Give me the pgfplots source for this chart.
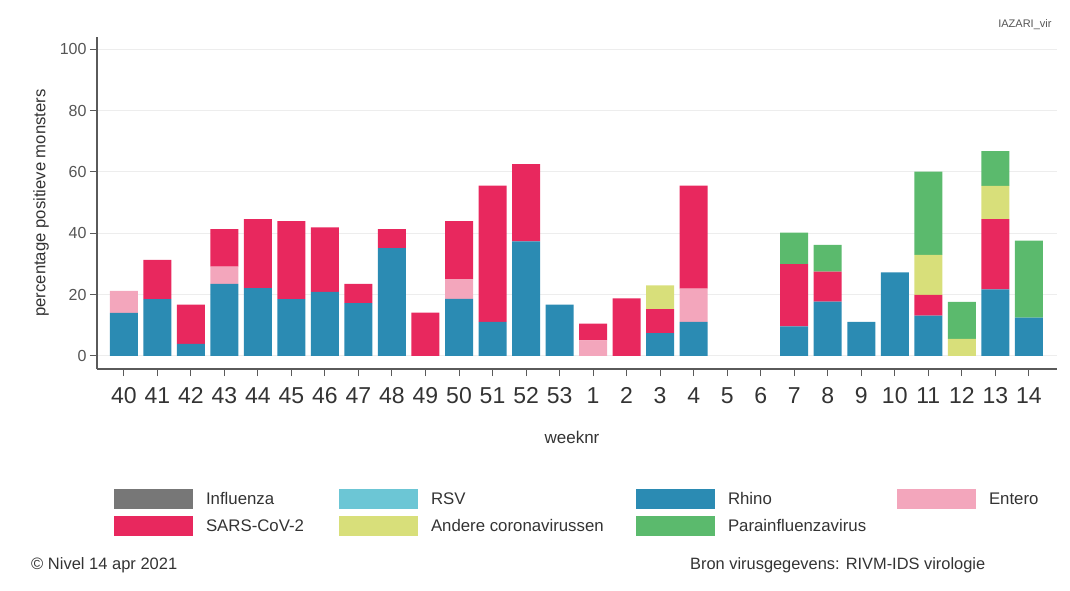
\documentclass[border=0pt]{standalone}
\usepackage{fontspec}
\setmainfont{Liberation Sans}
\usepackage{pgfplots}
\usepackage{pgfplotstable}
\pgfplotsset{compat=1.18}
\definecolor{cRhino}{RGB}{43,139,179}
\definecolor{cSars}{RGB}{232,40,94}
\definecolor{cEntero}{RGB}{243,166,188}
\definecolor{cAndere}{RGB}{216,223,122}
\definecolor{cPara}{RGB}{91,186,109}
\definecolor{cInfl}{RGB}{119,119,119}
\definecolor{cRSV}{RGB}{108,198,213}
\definecolor{axgray}{RGB}{90,90,90}
\definecolor{txtgray}{RGB}{51,51,51}
\definecolor{ticktxt}{RGB}{85,85,85}

\pgfplotstableread{
idx infl rsv rhino entero sars andere para
0  0 0 14.0 7.2  0    0    0
1  0 0 18.5 0    12.8 0    0
2  0 0 3.9  0    12.8 0    0
3  0 0 23.5 5.6  12.2 0    0
4  0 0 22.1 0    22.5 0    0
5  0 0 18.5 0    25.4 0    0
6  0 0 20.9 0    21.0 0    0
7  0 0 17.2 0    6.3  0    0
8  0 0 35.1 0    6.2  0    0
9  0 0 0    0    14.1 0    0
10 0 0 18.6 6.4  18.9 0    0
11 0 0 11.1 0    44.4 0    0
12 0 0 37.3 0    25.2 0    0
13 0 0 16.7 0    0    0    0
14 0 0 0    5.0  5.5  0    0
15 0 0 0    0    18.7 0    0
16 0 0 7.4  0    7.8  7.8  0
17 0 0 11.1 10.8 33.6 0    0
18 0 0 0    0    0    0    0
19 0 0 0    0    0    0    0
20 0 0 9.6  0    20.3 0    10.3
21 0 0 17.7 0    9.8  0    8.7
22 0 0 11.1 0    0    0    0
23 0 0 27.2 0    0    0    0
24 0 0 13.1 0    6.8  13.0 27.2
25 0 0 0    0    0    5.5  12.1
26 0 0 21.7 0    22.9 10.8 11.4
27 0 0 12.5 0    0    0    25.1
}\datatable

\begin{document}
\begin{tikzpicture}
\useasboundingbox (0pt,0pt) rectangle (1070pt,-591pt);
\begin{axis}[
  at={(97pt,-37pt)}, anchor=north west,
  width=960pt, height=332pt, scale only axis,
  xmin=-0.8, xmax=27.84, ymin=-4.3, ymax=104,
  ybar stacked, bar width=28pt,
  axis x line*=bottom, axis y line*=left,
  axis line style={-, draw=axgray, line width=1.2pt},
  xtick={0,...,27},
  xticklabels={40,41,42,43,44,45,46,47,48,49,50,51,52,53,1,2,3,4,5,6,7,8,9,10,11,12,13,14},
  ytick={0,20,40,60,80,100},
  ymajorgrids,
  grid style={draw=black!7, line width=1.2pt},
  tick align=outside,
  major tick length=7pt,
  tick style={draw=axgray, line width=1pt},
  /pgf/number format/assume math mode=true,
  xticklabel style={font=\fontsize{23pt}{27pt}\selectfont, text=txtgray, yshift=-8pt},
  yticklabel style={font=\fontsize{16pt}{19pt}\selectfont, text=ticktxt},
  xlabel={weeknr},
  ylabel={percentage positieve monsters},
  xlabel style={at={(axis description cs:0.4948,-0.2048)}, anchor=center, font=\fontsize{17pt}{20pt}\selectfont, text=txtgray},
  ylabel style={at={(axis description cs:-0.0583,0.5)}, anchor=center, rotate=0, font=\fontsize{16.7pt}{20pt}\selectfont, text=txtgray},
  legend columns=4,
  legend cell align=left,
  legend style={at={(axis description cs:0.01771,-0.36145)}, anchor=north west,
    draw=none, fill=none, inner sep=0pt, outer sep=0pt, row sep=7pt,
    column sep=0pt,
    font=\fontsize{16.8pt}{19pt}\selectfont, text=txtgray,
    nodes={inner sep=0pt, outer sep=0pt}},
  legend image code/.code={\fill[#1,draw=none] (0pt,-10pt) rectangle (79pt,10pt);},
  clip=false,
]
\addplot[fill=cInfl, draw=none] table[x=idx, y=infl] {\datatable};
\addlegendentry{\makebox[146pt][l]{\hspace{13pt}Influenza}}
\addplot[fill=cRSV, draw=none] table[x=idx, y=rsv] {\datatable};
\addlegendentry{\makebox[218pt][l]{\hspace{13pt}RSV}}
\addplot[fill=cRhino, draw=none] table[x=idx, y=rhino] {\datatable};
\addlegendentry{\makebox[182pt][l]{\hspace{13pt}Rhino}}
\addplot[fill=cEntero, draw=none] table[x=idx, y=entero] {\datatable};
\addlegendentry{\makebox[100pt][l]{\hspace{13pt}Entero}}
\addplot[fill=cSars, draw=none] table[x=idx, y=sars] {\datatable};
\addlegendentry{\makebox[146pt][l]{\hspace{13pt}SARS-CoV-2}}
\addplot[fill=cAndere, draw=none] table[x=idx, y=andere] {\datatable};
\addlegendentry{\makebox[218pt][l]{\hspace{13pt}Andere coronavirussen}}
\addplot[fill=cPara, draw=none] table[x=idx, y=para] {\datatable};
\addlegendentry{\makebox[182pt][l]{\hspace{13pt}Parainfluenzavirus}}
\end{axis}
\node[anchor=east, font=\fontsize{11pt}{13pt}\selectfont, text=ticktxt] at (1055pt,-25pt) {IAZARI\_vir};
\node[anchor=west, font=\fontsize{16.5pt}{19pt}\selectfont, text=txtgray, inner sep=0pt] at (31pt,-565pt) {© Nivel 14 apr 2021};
\node[anchor=west, font=\fontsize{16.4pt}{19pt}\selectfont, text=txtgray, inner sep=0pt] at (690pt,-565pt) {Bron virusgegevens: RIVM-IDS virologie};
\end{tikzpicture}
\end{document}
